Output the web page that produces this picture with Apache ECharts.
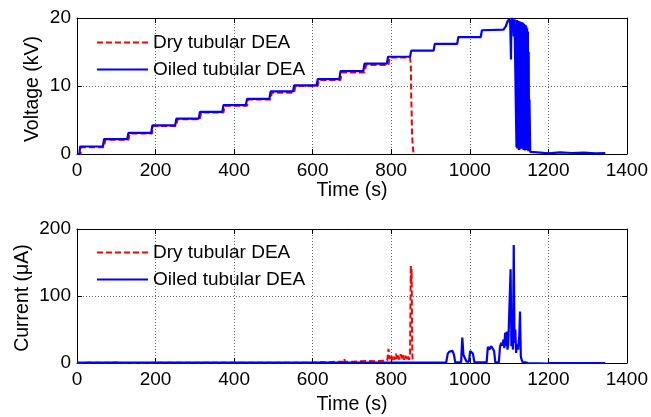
<!DOCTYPE html>
<html><head><meta charset="utf-8">
<script src="https://cdn.jsdelivr.net/npm/echarts@6/dist/echarts.min.js"></script>
<style>html,body{margin:0;padding:0;background:#fff}#c{width:651px;height:417px}</style>
</head><body><div id="c"></div>
<script>
const seriesNames = ['Dry tubular DEA', 'Oiled tubular DEA'];
const xLabelTime = 'Time (s)';
const yLabelVoltage = 'Voltage (kV)';
const yLabelCurrent = 'Current (\u03bcA)';

// Voltage (kV) vs time (s)
const voltageDry = [
  [0,0],[9,0],[11,1.0],[69,1.0],[72,2.1],[131,2.1],[134,3.0],[191,3.0],[194,4.1],
  [253,4.1],[256,5.1],[313,5.1],[316,6.1],[373,6.1],[376,7.1],[433,7.1],[436,8.0],
  [493,8.0],[496,9.0],[553,9.0],[556,10.0],[613,10.0],[616,10.9],[671,10.9],[674,12.0],
  [733,12.0],[736,13.1],[793,13.1],[796,14.2],[848,14.2],[850,13.0],[851,8.0],[852,6.5],
  [853,3.0],[855,1.0],[857,0]
];
const voltageOiled = [
  [0,0],[6,0],[8,1.1],[66,1.1],[69,2.2],[128,2.2],[131,3.1],[189,3.1],[192,4.2],
  [250,4.2],[253,5.2],[310,5.2],[313,6.2],[370,6.2],[373,7.2],[430,7.2],[433,8.1],
  [490,8.1],[493,9.2],[550,9.2],[553,10.1],[610,10.1],[613,11.0],[668,11.0],[671,12.2],
  [729,12.2],[732,13.3],[789,13.3],[792,14.3],[848,14.3],[851,15.2],[908,15.2],[911,16.2],
  [968,16.2],[971,17.2],[1028,17.2],[1031,18.2],[1086,18.3],[1092,18.8],[1096,19.5],
  [1100,19.8],[1103,19.2],[1105,13.9],[1106,19.6],[1108,20.0],[1110,19.4],[1112,17.3],
  [1114,19.8],[1116,20.0],[1118,19.6],[1119,1.0],[1120,19.7],[1121,0.8],[1122,19.5],
  [1123,1.2],[1124,19.6],[1125,0.6],[1126,19.4],[1127,1.0],[1128,19.5],[1129,0.7],
  [1130,19.3],[1131,1.0],[1132,19.4],[1133,0.8],[1134,19.2],[1135,1.1],[1136,19.3],
  [1137,0.6],[1138,19.1],[1139,0.9],[1140,19.0],[1141,0.5],[1142,19.0],[1143,1.0],
  [1144,18.8],[1145,0.6],[1146,18.5],[1147,0.8],[1148,18.0],[1149,0.4],[1150,15.0],
  [1151,0.5],[1152,8.0],[1154,0.3],[1156,0.1],[1180,0.2],[1200,0.1],[1230,0.25],
  [1260,0.15],[1290,0.2],[1320,0.1],[1345,0.15]
];

// Current (uA) vs time (s)
const currentDry = [
  [0,0.3],[15,-0.6],[30,0.6],[60,0.2],[100,0.7],[110,-0.4],[200,0.2],[400,0.2],
  [600,0.5],[620,1.5],[640,1.0],[660,2.0],[678,2.0],[680,6.5],[683,1.5],[700,2.0],
  [720,2.5],[740,3.0],[760,2.5],[780,3.5],[790,4.0],[793,21],[796,6],[800,12],
  [803,4],[806,10],[809,5],[812,14],[815,6],[818,11],[821,5],[824,13],[827,7],
  [830,12],[833,5],[836,11],[839,6],[842,12],[845,5],[848,10],[850,146],[851,118],
  [852,140],[853,60],[854,10],[855,0]
];
const currentOiled = [
  [0,0.5],[940,0.5],[944,14],[948,17],[952,15],[956,18],[960,12],[963,1],[978,1],
  [981,38],[984,12],[988,10],[992,2],[998,2],[1001,18],[1004,20],[1008,14],[1012,1],
  [1043,1],[1046,24],[1050,20],[1054,25],[1058,22],[1062,18],[1065,1],[1074,1],
  [1077,24],[1080,30],[1083,26],[1086,35],[1088,22],[1090,45],[1092,25],[1094,47],
  [1096,20],[1098,28],[1101,30],[1104,140],[1106,25],[1108,45],[1110,20],[1112,176],
  [1114,30],[1116,50],[1118,15],[1120,28],[1123,20],[1126,40],[1128,77],[1130,10],
  [1132,5],[1135,1],[1142,1],[1145,3],[1148,0],[1152,-1],[1198,-1],[1205,0],[1345,0]
];

const xMin = 0, xMax = 1400, xStep = 200;
const vMin = 0, vMax = 20, vStep = 10;
const iMin = 0, iMax = 200, iStep = 100;

const FONT = "'Liberation Sans', Arial, sans-serif";
const chart = echarts.init(document.getElementById('c'), null, {renderer: 'canvas'});

function xAx(gi, pos, show) {
  return {
    type: 'value', gridIndex: gi, position: pos, min: xMin, max: xMax, interval: xStep,
    axisLine: {show: true, onZero: false, lineStyle: {color: '#000', width: 1}},
    axisTick: {show: true, inside: true, length: 5, lineStyle: {color: '#000'}},
    axisLabel: {show: show, color: '#000', fontSize: 19, fontFamily: FONT, margin: 7, formatter: v => String(v)},
    splitLine: {show: show, lineStyle: {color: '#666', type: [1, 2], width: 1}}
  };
}
function yAx(gi, pos, show, mn, mx, st) {
  return {
    type: 'value', gridIndex: gi, position: pos, min: mn, max: mx, interval: st,
    axisLine: {show: true, onZero: false, lineStyle: {color: '#000', width: 1}},
    axisTick: {show: true, inside: true, length: 5, lineStyle: {color: '#000'}},
    axisLabel: {show: show, color: '#000', fontSize: 19, fontFamily: FONT, margin: 6, formatter: v => String(v)},
    splitLine: {show: show, lineStyle: {color: '#666', type: [1, 2], width: 1}}
  };
}

function legend(top) {
  return {
    data: seriesNames, orient: 'vertical', left: 96, top: top, padding: 0,
    itemWidth: 51, itemHeight: 14, itemGap: 8,
    itemStyle: {opacity: 0},
    textStyle: {color: '#000', fontSize: 19, fontFamily: FONT},
    selectedMode: false
  };
}

const dryStyle = {color: '#ff0000', width: 2, type: [6, 3]};
const oilStyle = {color: '#0000ff', width: 2.2, type: 'solid'};

chart.setOption({
  animation: false,
  backgroundColor: '#fff',
  grid: [
    {left: 77, top: 18, width: 551, height: 136},
    {left: 77, top: 229, width: 551, height: 134}
  ],
  legend: [legend(33), legend(243)],
  xAxis: [xAx(0, 'bottom', true), xAx(0, 'top', false), xAx(1, 'bottom', true), xAx(1, 'top', false)],
  yAxis: [yAx(0, 'left', true, vMin, vMax, vStep), yAx(0, 'right', false, vMin, vMax, vStep),
          yAx(1, 'left', true, iMin, iMax, iStep), yAx(1, 'right', false, iMin, iMax, iStep)],
  series: [
    {name: seriesNames[0], type: 'line', xAxisIndex: 0, yAxisIndex: 0, data: voltageDry, symbol: 'none', lineStyle: dryStyle, itemStyle: {color: '#ff0000'}},
    {name: seriesNames[1], type: 'line', xAxisIndex: 0, yAxisIndex: 0, data: voltageOiled, symbol: 'none', lineStyle: oilStyle, itemStyle: {color: '#0000ff'}},
    {name: seriesNames[0], type: 'line', xAxisIndex: 2, yAxisIndex: 2, data: currentDry, symbol: 'none', lineStyle: dryStyle, itemStyle: {color: '#ff0000'}},
    {name: seriesNames[1], type: 'line', xAxisIndex: 2, yAxisIndex: 2, data: currentOiled, symbol: 'none', lineStyle: oilStyle, itemStyle: {color: '#0000ff'}}
  ],
  graphic: [
    {type: 'text', style: {text: xLabelTime, fill: '#000', font: "19.5px " + FONT, textAlign: 'center', textVerticalAlign: 'middle'}, position: [352, 191]},
    {type: 'text', style: {text: xLabelTime, fill: '#000', font: "19.5px " + FONT, textAlign: 'center', textVerticalAlign: 'middle'}, position: [352, 405]},
    {type: 'text', style: {text: yLabelVoltage, fill: '#000', font: "19.5px " + FONT, textAlign: 'center', textVerticalAlign: 'middle'}, position: [33, 89], rotation: Math.PI / 2},
    {type: 'text', style: {text: yLabelCurrent, fill: '#000', font: "19.5px " + FONT, textAlign: 'center', textVerticalAlign: 'middle'}, position: [23, 298], rotation: Math.PI / 2}
  ]
});
</script>
</body></html>
